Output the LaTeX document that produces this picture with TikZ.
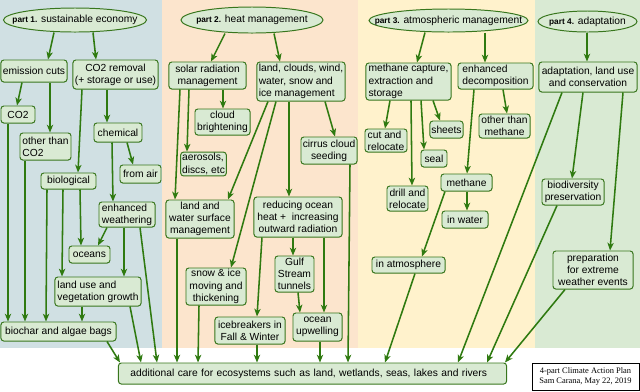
\documentclass[tikz,border=0pt]{standalone}
\usepackage{fontspec}
\setmainfont{Liberation Sans}
\newfontfamily\creditfont{Liberation Serif}
\usetikzlibrary{arrows.meta,shapes.geometric}
\definecolor{pnlone}{HTML}{D0E0E3}
\definecolor{pnltwo}{HTML}{FCE5CD}
\definecolor{pnlthree}{HTML}{FFF2CC}
\definecolor{pnlfour}{HTML}{D9EAD3}
\definecolor{boxfill}{HTML}{D9EAD3}
\definecolor{boxline}{HTML}{38761D}
\definecolor{arrline}{HTML}{2F7A10}
\newcommand{\partlbl}[2]{\makebox[0pt]{{\fontsize{5.9}{7}\selectfont\bfseries #1} #2}}
\begin{document}
\begin{tikzpicture}[x=0.025cm, y=-0.025cm,
    font=\fontsize{7.3}{8.7}\selectfont,
    box/.style={draw=boxline, fill=boxfill, line width=0.7pt, rounded corners=2pt,
      align=center, inner sep=1pt},
    lbox/.style={box, align=left},
    part/.style={ellipse, draw=boxline, fill=boxfill, line width=0.7pt, inner sep=0pt},
    arr/.style={draw=arrline, line width=1.1pt,
      -{Stealth[length=5.5pt, width=4.5pt, inset=1.5pt]}}]
  \useasboundingbox (0,0) rectangle (640,391);
  % background panels
  \fill[pnlone] (0,0) rectangle (162,348);
  \fill[pnltwo] (162,0) rectangle (358,348);
  \fill[pnlthree] (358,0) rectangle (535,348);
  \fill[pnlfour] (535,0) rectangle (640,348);
  % part 1
  \node[part, minimum width=35.75mm, minimum height=6mm] (p1) at (75,20)
    {\partlbl{part 1.}{sustainable economy}};
  \node[box, minimum width=16.5mm, minimum height=5.5mm] (ecut) at (34,71) {emission cuts};
  \node[box, minimum width=21.25mm, minimum height=7.25mm] (co2r) at (115.5,74.5)
    {CO2 removal\\(+ storage or use)};
  \node[box, minimum width=8.5mm, minimum height=4.25mm] (co2) at (18,114.5) {CO2};
  \node[lbox, minimum width=12.75mm, minimum height=6.75mm] (oth) at (45.5,146.5)
    {other than\\CO2};
  \node[box, minimum width=12mm, minimum height=4.75mm] (chem) at (118,132.5) {chemical};
  \node[box, minimum width=10.25mm, minimum height=4.5mm] (air) at (140.5,174) {from air};
  \node[box, minimum width=13.75mm, minimum height=4mm] (bio) at (68.5,181) {biological};
  \node[lbox, minimum width=14mm, minimum height=6.25mm] (ew) at (127,214.5)
    {enhanced\\weathering};
  \node[box, minimum width=10.25mm, minimum height=4.25mm] (oce) at (89.5,254.5) {oceans};
  \node[lbox, minimum width=21.5mm, minimum height=7.25mm] (luv) at (98,291.5)
    {land use and\\vegetation growth};
  \node[box, minimum width=28.75mm, minimum height=4.75mm] (bch) at (58.5,331.5)
    {biochar and algae bags};
  % part 2
  \node[part, minimum width=35.5mm, minimum height=6.5mm] (p2) at (252,20)
    {\partlbl{part 2.}{heat management}};
  \node[box, minimum width=19.25mm, minimum height=6.75mm] (srm) at (207.5,75.5)
    {solar radiation\\management};
  \node[lbox, minimum width=22mm, minimum height=9.75mm] (lcw) at (301,81.5)
    {land, clouds, wind,\\water, snow and\\ice management};
  \node[box, minimum width=13.75mm, minimum height=6.5mm] (cb) at (222.5,122)
    {cloud\\brightening};
  \node[lbox, minimum width=11.25mm, minimum height=5.5mm] (aer) at (203.5,164)
    {aerosols,\\discs, etc};
  \node[box, minimum width=14mm, minimum height=6.75mm] (cir) at (329,150.5)
    {cirrus cloud\\seeding};
  \node[box, minimum width=17mm, minimum height=9.5mm] (lws) at (200,219)
    {land and\\water surface\\management};
  \node[box, minimum width=22mm, minimum height=10mm] (roh) at (298,217)
    {reducing ocean\\heat +\ \ increasing\\outward radiation};
  \node[box, minimum width=9.75mm, minimum height=9mm] (gst) at (294.5,274)
    {Gulf\\Stream\\tunnels};
  \node[box, minimum width=15mm, minimum height=9.25mm] (sim) at (216,286.5)
    {snow \& ice\\moving and\\thickening};
  \node[box, minimum width=17.5mm, minimum height=6.75mm] (ice) at (250,330.5)
    {icebreakers in\\Fall \& Winter};
  \node[box, minimum width=12.25mm, minimum height=7mm] (ocu) at (317.5,327)
    {ocean\\upwelling};
  % part 3
  \node[part, minimum width=39.75mm, minimum height=5.75mm] (p3) at (448.5,20.5)
    {\partlbl{part 3.}{atmospheric management}};
  \node[lbox, minimum width=21.25mm, minimum height=9.25mm] (mcs) at (408.5,81.5)
    {methane capture,\\extraction and\\storage};
  \node[lbox, minimum width=18.75mm, minimum height=6.5mm] (edc) at (495.5,76)
    {enhanced\\decomposition};
  \node[lbox, minimum width=10.5mm, minimum height=5.75mm] (cut) at (386,140.5)
    {cut and\\relocate};
  \node[box, minimum width=8.25mm, minimum height=4.25mm] (she) at (446.5,129.5) {sheets};
  \node[box, minimum width=6.5mm, minimum height=4.25mm] (sea) at (434,158.5) {seal};
  \node[box, minimum width=12.75mm, minimum height=6mm] (otm) at (504.5,126)
    {other than\\methane};
  \node[box, minimum width=10.25mm, minimum height=6.25mm] (drl) at (407.5,198.5)
    {drill and\\relocate};
  \node[box, minimum width=12.75mm, minimum height=4.25mm] (met) at (466.5,182.5) {methane};
  \node[box, minimum width=11.5mm, minimum height=4.25mm] (wat) at (465,219.5) {in water};
  \node[box, minimum width=18.25mm, minimum height=4mm] (atm) at (408.5,265) {in atmosphere};
  % part 4
  \node[part, minimum width=24.75mm, minimum height=5.25mm] (p4) at (587.5,21.5)
    {\partlbl{part 4.}{adaptation}};
  \node[box, minimum width=24.5mm, minimum height=7.5mm] (alc) at (588,77)
    {adaptation, land use\\and conservation};
  \node[box, minimum width=15.5mm, minimum height=6.5mm] (bio4) at (573,192)
    {biodiversity\\preservation};
  \node[box, minimum width=20mm, minimum height=9.5mm] (pre) at (593,270)
    {preparation\\for extreme\\weather events};
  % shared box and credit
  \node[box, align=left, text width=91mm, inner xsep=3mm, minimum height=5.25mm] (bot)
    at (312.5,373.5)
    {additional care for ecosystems such as land, wetlands, seas, lakes and rivers};
  \node[draw, fill=white, line width=0.5pt, inner sep=1pt, minimum width=26.75mm,
    minimum height=6.75mm, font=\creditfont\fontsize{6}{7.1}\selectfont, align=center]
    (credit) at (585.5,376.5) {4-part Climate Action Plan\\Sam Carana, May 22, 2019};
  % arrows, part 1
  \draw[arr] (p1.south -| 54,0) -- (ecut.north -| 48,0);
  \draw[arr] (p1.south -| 93,0) -- (co2r.north -| 96,0);
  \draw[arr] (ecut.south -| 22,0) -- (co2.north -| 17,0);
  \draw[arr] (ecut.south -| 50,0) -- (oth.north -| 50,0);
  \draw[arr] (co2r.south -| 82,0) -- (bio.north -| 78,0);
  \draw[arr] (co2r.south -| 107,0) -- (chem.north -| 107,0);
  \draw[arr] (chem.south -| 127,0) -- (air.north -| 133,0);
  \draw[arr] (chem.south -| 112,0) -- (ew.north -| 113,0);
  \draw[arr] (co2.south -| 8,0) -- (bch.north -| 8,0);
  \draw[arr] (oth.south -| 25,0) -- (bch.north -| 25,0);
  \draw[arr] (bio.south -| 47,0) -- (bch.north -| 46,0);
  \draw[arr] (bio.south -| 63,0) -- (luv.north -| 62,0);
  \draw[arr] (bio.south -| 80,0) -- (oce.north -| 81,0);
  \draw[arr] (ew.south -| 107,0) -- (oce.north -| 98,0);
  \draw[arr] (ew.south -| 124,0) -- (luv.north -| 124,0);
  \draw[arr] (ew.south -| 140,0) -- (bot.north -| 157,0);
  \draw[arr] (luv.south -| 82,0) -- (bch.north -| 82,0);
  \draw[arr] (luv.south -| 130,0) -- (bot.north -| 141,0);
  \draw[arr] (bch.south -| 107,0) -- (bot.north -| 120,0);
  % arrows, part 2
  \draw[arr] (p2.south -| 225,0) -- (srm.north -| 211,0);
  \draw[arr] (p2.south -| 274,0) -- (lcw.north -| 280,0);
  \draw[arr] (srm.south -| 223,0) -- (cb.north -| 223,0);
  \draw[arr] (srm.south -| 189,0) -- (aer.north -| 187,0);
  \draw[arr] (srm.south -| 180,0) -- (lws.north -| 175,0);
  \draw[arr] (lcw.south -| 325,0) -- (cir.north -| 335,0);
  \draw[arr] (lcw.south -| 268,0) -- (lws.north -| 228,0);
  \draw[arr] (lcw.south -| 276,0) -- (sim.north -| 231,0);
  \draw[arr] (lcw.south -| 289,0) -- (roh.north -| 289,0);
  \draw[arr] (roh.south -| 293,0) -- (gst.north -| 293,0);
  \draw[arr] (roh.south -| 262,0) -- (ice.north -| 257,0);
  \draw[arr] (roh.south -| 324,0) -- (ocu.north -| 324,0);
  \draw[arr] (gst.south -| 298,0) -- (ocu.north -| 300,0);
  \draw[arr] (cir.south -| 350,0) -- (bot.north -| 348,0);
  \draw[arr] (lws.south -| 177,0) -- (bot.north -| 177,0);
  \draw[arr] (sim.south -| 199,0) -- (bot.north -| 198,0);
  \draw[arr] (ice.south -| 257,0) -- (bot.north -| 257,0);
  \draw[arr] (ocu.south -| 320,0) -- (bot.north -| 320,0);
  % arrows, part 3
  \draw[arr] (p3.south -| 425,0) -- (mcs.north -| 417,0);
  \draw[arr] (p3.south -| 485,0) -- (edc.north -| 485,0);
  \draw[arr] (mcs.south -| 390,0) -- (cut.north -| 385,0);
  \draw[arr] (mcs.south -| 411,0) -- (drl.north -| 412,0);
  \draw[arr] (mcs.south -| 421,0) -- (sea.north -| 424,0);
  \draw[arr] (mcs.south -| 433,0) -- (she.north -| 440,0);
  \draw[arr] (edc.south -| 503,0) -- (otm.north -| 507,0);
  \draw[arr] (edc.south -| 474,0) -- (met.north -| 467,0);
  \draw[arr] (met.south -| 467,0) -- (wat.north -| 467,0);
  \draw[arr] (met.south -| 445,0) -- (atm.north -| 422,0);
  \draw[arr] (atm.south -| 415,0) -- (bot.north -| 385,0);
  % arrows, part 4
  \draw[arr] (p4.south -| 587,0) -- (alc.north -| 587,0);
  \draw[arr] (alc.south -| 583,0) -- (bio4.north -| 572,0);
  \draw[arr] (alc.south -| 623,0) -- (pre.north -| 610,0);
  \draw[arr] (alc.south -| 562,0) -- (bot.north -| 458,0);
  \draw[arr] (bio4.south -| 557,0) -- (bot.north -| 487,0);
  \draw[arr] (pre.south -| 565,0) -- (bot.north -| 505,0);
\end{tikzpicture}
\end{document}
